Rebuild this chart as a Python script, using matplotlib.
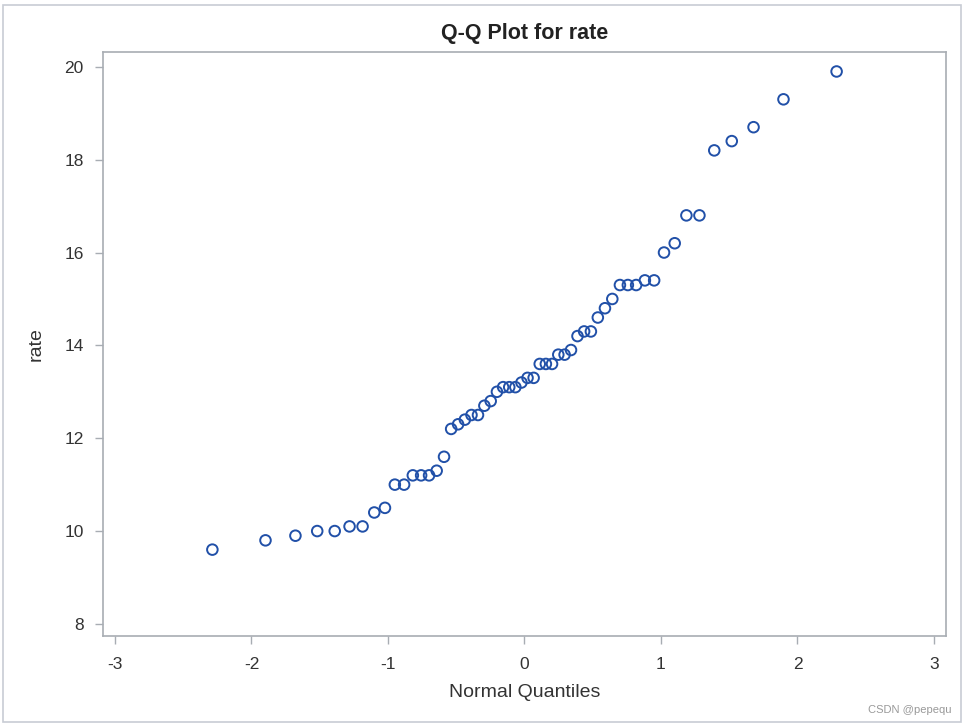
"""
Q-Q plot for rate (SAS-style recreation).
Cikti: out.png
"""
from statistics import NormalDist

import numpy as np
import matplotlib
matplotlib.use("Agg")
import matplotlib.pyplot as plt
from matplotlib.patches import Rectangle

# rate values (sorted, n = 56)
rate = [9.6, 9.8, 9.9, 10.0, 10.0, 10.1, 10.1, 10.4, 10.5, 11.0,
        11.0, 11.2, 11.2, 11.2, 11.3, 11.6, 12.2, 12.3, 12.4, 12.5,
        12.5, 12.7, 12.8, 13.0, 13.1, 13.1, 13.1, 13.2, 13.3, 13.3,
        13.6, 13.6, 13.6, 13.8, 13.8, 13.9, 14.2, 14.3, 14.3, 14.6,
        14.8, 15.0, 15.3, 15.3, 15.3, 15.4, 15.4, 16.0, 16.2, 16.8,
        16.8, 18.2, 18.4, 18.7, 19.3, 19.9]
x_ticks = [-3, -2, -1, 0, 1, 2, 3]
y_ticks = [8, 10, 12, 14, 16, 18, 20]

plt.rcParams["font.family"] = ["Liberation Sans", "DejaVu Sans"]

# normal quantiles by rank (Blom), as the Q-Q plot does
n = len(rate)
nd = NormalDist()
quantiles = [nd.inv_cdf((i + 1 - 0.375) / (n + 0.25)) for i in range(n)]

fig = plt.figure(figsize=(9.66, 7.26), dpi=100)
fig.patch.set_facecolor("white")
# outer frame
fig.add_artist(Rectangle((0.003, 0.006), 0.992, 0.987, transform=fig.transFigure,
                         fill=False, edgecolor="#c8ccd4", linewidth=1.2))

ax = fig.add_axes([0.1066, 0.124, 0.8727, 0.8044])
ax.scatter(quantiles, np.array(rate), s=58, facecolors="none",
           edgecolors="#2150a8", linewidths=1.4, zorder=3)

ax.set_xlim(-3.088, 3.088)
ax.set_ylim(7.74, 20.32)
ax.set_xticks(x_ticks)
ax.set_yticks(y_ticks)
ax.set_xticklabels([str(t) for t in x_ticks])
ax.set_yticklabels([str(t) for t in y_ticks])

for s in ax.spines.values():
    s.set_color("#a8adb3")
    s.set_linewidth(1.2)
ax.tick_params(axis="both", colors="#a8adb3", labelcolor="#333333",
               length=6, width=1.0, labelsize=12.5)
ax.tick_params(axis="x", pad=9)
ax.tick_params(axis="y", pad=8)

ax.set_xlabel("Normal Quantiles", fontsize=14, color="#333333", labelpad=9)
ax.set_ylabel("rate", fontsize=14, color="#333333", labelpad=14)
ax.set_title("Q-Q Plot for rate", fontsize=15.5, fontweight="bold",
             color="#222222", pad=9)

fig.text(0.985, 0.015, "CSDN @pepequ", ha="right", va="bottom",
         fontsize=8, color="#999999")

fig.savefig("out.png", dpi=100)
